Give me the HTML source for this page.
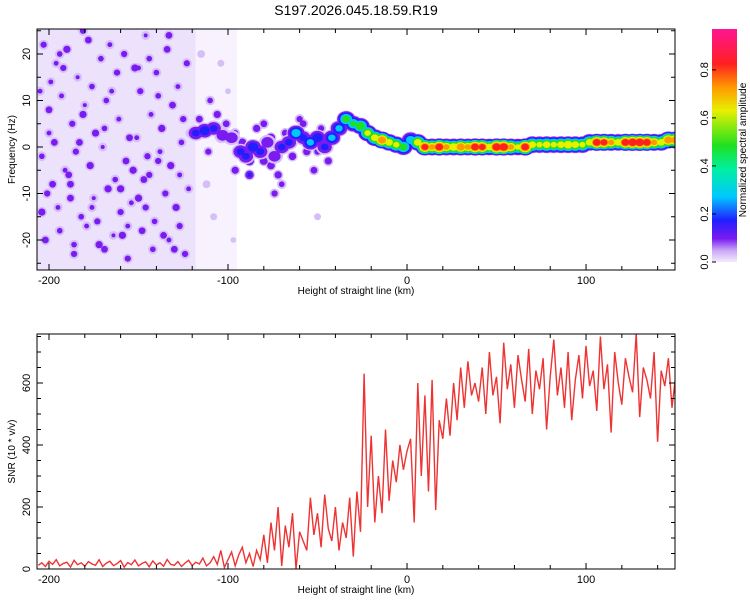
<!DOCTYPE html>
<html><head><meta charset="utf-8"><style>
html,body{margin:0;padding:0;background:#fff;}
svg{display:block;font-family:"Liberation Sans",sans-serif;}
</style></head><body>
<svg id="c" width="750" height="600" viewBox="0 0 750 600" xmlns="http://www.w3.org/2000/svg">
<defs>
<clipPath id="clipTop"><rect x="37" y="29" width="638" height="241"/></clipPath>
<clipPath id="clipBot"><rect x="37" y="334" width="638" height="235"/></clipPath>
<linearGradient id="cbGrad" x1="0" y1="1" x2="0" y2="0">
<stop offset="0" stop-color="#f3eafd"/><stop offset="0.05" stop-color="#c9a6f5"/><stop offset="0.1" stop-color="#7a1bf0"/>
<stop offset="0.18" stop-color="#2020ff"/><stop offset="0.28" stop-color="#00c8ff"/><stop offset="0.4" stop-color="#00f0a0"/>
<stop offset="0.5" stop-color="#20e020"/><stop offset="0.65" stop-color="#e8f000"/><stop offset="0.75" stop-color="#ff9900"/>
<stop offset="0.85" stop-color="#ff2020"/><stop offset="1" stop-color="#ff1493"/></linearGradient>
</defs>
<text x="356" y="15" font-size="14" text-anchor="middle">S197.2026.045.18.59.R19</text>
<g id="top"></g><g id="bot"></g><g id="cb"></g>
</svg>
<script>
const ridgeX=[-118,-113,-108,-103,-98,-93,-90,-86,-82,-78,-74,-70,-66,-62,-58,-54,-50,-46,-42,-38,-34,-30,-26,-22,-18,-14,-10,-6,-2,2,6,10,14,18,22,26,30,34,38,42,46,50,54,58,62,66,70,74,78,82,86,90,94,98,102,106,110,114,118,122,126,130,134,138,142,146,150];
const ridgeF=[3,3.5,4,2.5,2,-1,-2,0,-1,1,-2,0,1,3,2,1,2,0,2,4,6,5,4.5,3,2,1.5,1,0.5,0,1.5,1,0,0,0,0,0,0,0,0,0,0,0,0,0,0,0,0.5,0.5,0.5,0.5,0.5,0.5,0.5,0.5,1,1,1,1,1,1,1,1,1,1,1,1.5,1.5];
const ridgeA=[0.2,0.25,0.2,0.15,0.15,0.2,0.2,0.25,0.2,0.15,0.15,0.2,0.2,0.35,0.2,0.3,0.25,0.2,0.3,0.3,0.45,0.4,0.5,0.55,0.6,0.8,0.6,0.55,0.45,0.35,0.6,0.85,0.7,0.9,0.7,0.65,0.8,0.7,0.9,0.85,0.6,0.95,0.95,0.7,0.55,0.9,0.6,0.55,0.6,0.55,0.6,0.65,0.6,0.55,0.6,0.9,0.85,0.7,0.6,0.9,0.95,0.95,0.9,0.7,0.6,0.8,0.8];
const noiseX=[-203,-196,-190,-184,-178,-171,-165,-158,-152,-146,-140,-134,-128,-123,-200,-193,-187,-180,-174,-168,-161,-155,-149,-143,-137,-131,-125,-204,-197,-191,-185,-177,-170,-163,-157,-151,-144,-138,-132,-126,-201,-195,-188,-182,-175,-167,-160,-154,-147,-141,-135,-129,-122,-202,-194,-186,-179,-172,-164,-156,-148,-142,-133,-127,-199,-189,-181,-169,-159,-150,-139,-130,-115,-108,-100,-112,-104,-97,
-205,-198,-192,-186,-181,-176,-169,-162,-156,-150,-145,-139,-133,-127,-121,-204,-194,-183,-173,-166,-153,-144,-136,-124,-200,-188,-176,-160,-146,-131,
-116,-111,-106,-101,-96,-92,-88,-84,-80,-76,-72,-68,-64,-60,-56,-52,-48,-44,-88,-80,-74,-70,-58,-50,-110,-104,-96,-84,-76,-50];
const noiseF=[22,18,21,15,23,19,12,20,17,24,16,21,13,18,8,11,5,9,3,10,6,2,12,7,4,9,6,-2,1,-5,-1,-4,0,-7,-3,2,-6,-1,-4,1,-10,-13,-8,-15,-11,-9,-14,-12,-7,-16,-10,-13,-9,-20,-18,-23,-17,-21,-19,-24,-18,-22,-20,-17,14,-6,25,4,-19,17,-3,-22,20,-15,12,-8,18,-20,
12,-8,17,-21,7,-13,-22,16,-17,-11,-2,11,24,-6,3,-14,20,1,-16,22,-5,19,-19,-23,3,-11,13,-9,-13,9,
6,-1,7,5,3,1,-3,4,5,-4,-6,3,-2,6,-1,-5,4,-3,-6,-3,-10,-8,5,-1,10,2,-5,-1,2,-15];
const noiseA=[0.12,0.1,0.14,0.09,0.13,0.11,0.1,0.12,0.14,0.09,0.11,0.13,0.1,0.12,0.13,0.1,0.12,0.09,0.14,0.11,0.1,0.13,0.12,0.1,0.14,0.09,0.12,0.11,0.13,0.1,0.12,0.14,0.09,0.11,0.13,0.1,0.12,0.1,0.14,0.11,0.12,0.1,0.13,0.11,0.09,0.14,0.12,0.1,0.13,0.11,0.12,0.14,0.1,0.13,0.11,0.12,0.1,0.14,0.09,0.12,0.13,0.11,0.1,0.12,0.1,0.13,0.12,0.11,0.14,0.1,0.12,0.13,0.07,0.06,0.05,0.07,0.06,0.05,
0.1,0.13,0.12,0.11,0.14,0.1,0.13,0.12,0.1,0.14,0.12,0.11,0.13,0.1,0.12,0.14,0.11,0.13,0.12,0.1,0.14,0.11,0.13,0.12,0.1,0.13,0.11,0.14,0.12,0.13,
0.13,0.12,0.14,0.13,0.12,0.15,0.2,0.14,0.13,0.15,0.14,0.13,0.15,0.12,0.14,0.13,0.12,0.14,0.18,0.16,0.12,0.11,0.13,0.12,0.11,0.16,0.14,0.22,0.17,0.06];
const snrStart=-206, snrStep=2;
const snrValues=[12,20,8,25,15,30,10,18,22,6,28,14,20,9,24,16,12,30,8,19,25,11,17,27,6,21,14,29,10,18,23,7,26,13,20,9,31,15,12,24,8,19,28,11,22,16,35,10,20,
40,15,60,5,30,55,10,45,70,20,50,8,60,
30,110,20,150,60,200,10,140,70,180,0,120,90,
60,230,110,180,70,240,130,90,200,60,150,100,230,40,
250,120,630,200,430,150,
300,180,450,220,350,280,400,320,380,
420,150,600,300,560,250,610,190,480,420,
550,430,600,480,650,520,670,560,
600,540,650,500,700,560,620,470,730,580,660,520,690,610,540,710,500,640,580,680,450,620,740,560,650,520,700,480,610,690,550,720,590,640,510,750,580,660,440,700,600,530,680,620,570,760,490,650,610,550,700,410,640,590,680,520,620,600];
const xTicks=[-200,-100,0,100];
const fTicks=[-20,-10,0,10,20];
const snrTicks=[0,200,400,600];
const cbTicks=[0.0,0.2,0.4,0.6,0.8];

const NS='http://www.w3.org/2000/svg';
const L=37,R=675;
const xs=v=>L+(v+206.7)*(R-L)/356.4;
const fy=v=>147-v*4.65;
const sy=v=>569-v*0.31;
function mk(tag,attrs,parent){const e=document.createElementNS(NS,tag);for(const k in attrs)e.setAttribute(k,attrs[k]);parent.appendChild(e);return e;}
const levels=[0.04,0.09,0.18,0.28,0.4,0.55,0.7,0.82];
const levelColors=['#d6bff8','#7a1bf0','#2020ff','#00c8ff','#20e020','#e8f000','#ff9900','#ff2020'];

const topG=document.getElementById('top');
const tg=mk('g',{'clip-path':'url(#clipTop)'},topG);


mk('rect',{x:xs(-207),y:29,width:xs(-118)-xs(-207),height:241,fill:'#ede2fc'},tg);
mk('rect',{x:xs(-118),y:29,width:xs(-95)-xs(-118),height:241,fill:'#f7f2fe'},tg);
function blobs(X,F,A,rx,ry){
  levels.forEach((lv,k)=>{
    for(let i=0;i<X.length;i++){
      if(A[i]<lv)continue;
      const s=1-0.9*lv/A[i];
      const e=mk('ellipse',{cx:xs(X[i]),cy:fy(F[i]),rx:rx*(0.3+s),ry:ry*(0.3+s),fill:levelColors[k]},tg);
      
      
    }
  });
}
blobs(noiseX,noiseF,noiseA,5,5);
blobs(ridgeX,ridgeF,ridgeA,8,7);

function axes(g,y0,y1,yt,yfun,minorY,ylabel){
  mk('rect',{x:L,y:y0,width:R-L,height:y1-y0,fill:'none',stroke:'#000','stroke-width':1},g);
  for(let v=-200;v<=140;v+=20){const x=xs(v);const big=v%100===0;
    mk('line',{x1:x,x2:x,y1:y1,y2:y1-(big?6:4),stroke:'#000'},g);
    mk('line',{x1:x,x2:x,y1:y0,y2:y0+(big?6:4),stroke:'#000'},g);}
  for(const v of xTicks){const t=mk('text',{x:xs(v),y:y1+14,'font-size':11,'text-anchor':'middle'},g);t.textContent=v;
    }
  for(const v of minorY){const y=yfun(v);const big=yt.includes(v);
    mk('line',{x1:L,x2:L+(big?6:4),y1:y,y2:y,stroke:'#000'},g);
    mk('line',{x1:R,x2:R-(big?6:4),y1:y,y2:y,stroke:'#000'},g);}
  for(const v of yt){const y=yfun(v);const t=mk('text',{x:0,y:0,'font-size':11,'text-anchor':'middle',transform:`translate(30,${y}) rotate(-90)`},g);t.textContent=v;
    }
  const xt=mk('text',{x:356,y:y1+24,'font-size':10,'text-anchor':'middle'},g);xt.textContent='Height of straight line (km)';
  
  const yl=mk('text',{x:0,y:0,'font-size':10,'text-anchor':'middle',transform:`translate(15,${(y0+y1)/2}) rotate(-90)`},g);yl.textContent=ylabel;
  
}
const fMinor=[];for(let v=-25;v<=25;v+=5)fMinor.push(v);
axes(topG,29,270,fTicks,fy,fMinor,'Frequency (Hz)');

const botG=document.getElementById('bot');
const bg=mk('g',{'clip-path':'url(#clipBot)'},botG);
let d='';
snrValues.forEach((v,i)=>{d+=(i?'L':'M')+xs(snrStart+i*snrStep).toFixed(1)+','+sy(v).toFixed(1);});
const p=mk('path',{d:d,fill:'none',stroke:'#ee3333','stroke-width':1.4},bg);


const sMinor=[];for(let v=0;v<=750;v+=50)sMinor.push(v);
axes(botG,334,569,snrTicks,sy,sMinor,'SNR (10 * v/v)');

const cbG=document.getElementById('cb');
const bar=mk('rect',{x:712,y:29,width:25,height:233,fill:'url(#cbGrad)'},cbG);


const cby=v=>262-v*233/0.97;
for(const v of cbTicks){const y=cby(v);
  mk('line',{x1:712,x2:716,y1:y,y2:y,stroke:'#000'},cbG);
  const t=mk('text',{x:0,y:0,'font-size':11,'text-anchor':'middle',transform:`translate(708,${y}) rotate(-90)`},cbG);t.textContent=v.toFixed(1);
  }
const cbt=mk('text',{x:0,y:0,'font-size':10,'text-anchor':'middle',transform:'translate(746,150) rotate(-90)'},cbG);cbt.textContent='Normalized spectral amplitude';


</script>
</body></html>
